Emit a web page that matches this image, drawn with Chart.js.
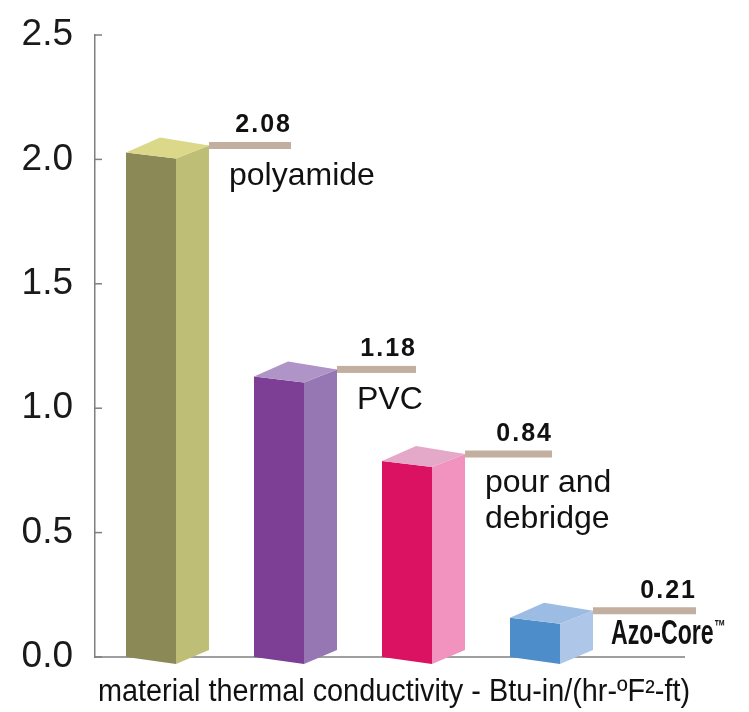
<!DOCTYPE html>
<html><head><meta charset="utf-8">
<script src="https://cdn.jsdelivr.net/npm/chart.js@4/dist/chart.umd.min.js"></script>
<style>html,body{margin:0;padding:0;background:#fff}</style>
</head><body>
<canvas id="c" width="749" height="712"></canvas>
<script>
const categories = ['polyamide', 'PVC', 'pour and debridge', 'Azo-Core'];
const labelLines = [['polyamide'], ['PVC'], ['pour and', 'debridge'], ['Azo-Core']];
const values = [2.08, 1.18, 0.84, 0.21];
const valueLabels = ['2.08', '1.18', '0.84', '0.21'];
const yTicks = [0, 0.5, 1.0, 1.5, 2.0, 2.5];
const axisTitle = 'material thermal conductivity - Btu-in/(hr-ºF²-ft)';

// styling
const frontColors = ['#8b8a56', '#7d3e95', '#db1162', '#4c8dca'];
const sideColors  = ['#bfbe76', '#9677b4', '#f292bf', '#aec7e8'];
const topColors   = ['#dbd88a', '#ae94c7', '#e4a9c9', '#9dbce3'];
const leaderReach = [132, 129, 137, 153];
const nameDrop    = [40, 40, 38, 33];
const leaderColor = '#c3af9f';
const axisColor = '#7f7f7f';

const boxPlugin = {
  id: 'box3d',
  afterDatasetsDraw(chart) {
    const ctx = chart.ctx;
    const ca = chart.chartArea;
    const ys = chart.scales.y;
    const meta = chart.getDatasetMeta(0);
    const y0 = ys.getPixelForValue(0);
    ctx.save();
    ctx.strokeStyle = axisColor; ctx.lineWidth = 1.5;
    ctx.beginPath(); ctx.moveTo(ca.left, y0); ctx.lineTo(685, y0); ctx.stroke();
    yTicks.forEach(v => {
      const y = ys.getPixelForValue(v);
      ctx.beginPath(); ctx.moveTo(ca.left, y); ctx.lineTo(ca.left + 7, y); ctx.stroke();
    });
    meta.data.forEach((el, i) => {
      const cx = el.x, vy = el.y;
      const poly = (pts, col) => {
        ctx.fillStyle = col; ctx.beginPath();
        pts.forEach((p, k) => k ? ctx.lineTo(p[0], p[1]) : ctx.moveTo(p[0], p[1]));
        ctx.closePath(); ctx.fill();
      };
      poly([[cx - 33, vy + 13], [cx + 17, vy + 19], [cx + 17, y0 + 7], [cx - 33, y0]], frontColors[i]);
      poly([[cx + 17, vy + 19], [cx + 50, vy + 6], [cx + 50, y0 - 7], [cx + 17, y0 + 7]], sideColors[i]);
      poly([[cx - 33, vy + 13], [cx + 1, vy - 2], [cx + 50, vy + 6], [cx + 17, vy + 19]], topColors[i]);
      const ly = vy + 6;
      const lx2 = cx + leaderReach[i];
      ctx.fillStyle = leaderColor;
      ctx.fillRect(cx + 50, ly - 3.5, lx2 - (cx + 50), 7);
      ctx.fillStyle = '#111';
      ctx.font = 'bold 25px "Liberation Sans", Arial, sans-serif';
      ctx.letterSpacing = '2px';
      ctx.textAlign = 'right'; ctx.textBaseline = 'alphabetic';
      ctx.fillText(valueLabels[i], lx2 + 1, ly - 13);
      ctx.letterSpacing = '0px';
      ctx.textAlign = 'left';
      const nx = cx + 70;
      if (i === labelLines.length - 1) {
        const t = labelLines[i][0];
        ctx.save();
        ctx.translate(nx - 2, ly + nameDrop[i]);
        ctx.scale(0.66, 1);
        ctx.font = 'bold 35px "Liberation Sans Narrow", "Liberation Sans", sans-serif';
        ctx.fillText(t, 0, 0);
        const w = ctx.measureText(t).width;
        ctx.font = 'bold 17px "Liberation Sans Narrow", "Liberation Sans", sans-serif';
        ctx.fillText('™', w + 1, -12);
        ctx.restore();
      } else {
        ctx.font = '32px "Liberation Sans", Arial, sans-serif';
        labelLines[i].forEach((t, k) => ctx.fillText(t, nx, ly + nameDrop[i] + k * 36));
      }
    });
    ctx.fillStyle = '#111';
    ctx.save();
    ctx.translate(394, 701);
    ctx.scale(0.93, 1);
    ctx.font = '31px "Liberation Sans Narrow", "Liberation Sans", sans-serif';
    ctx.textAlign = 'center'; ctx.textBaseline = 'alphabetic';
    ctx.fillText(axisTitle, 0, 0);
    ctx.restore();
    ctx.restore();
  }
};

new Chart(document.getElementById('c'), {
  type: 'bar',
  data: {
    labels: categories,
    datasets: [{
      data: values,
      backgroundColor: 'rgba(0,0,0,0)',
      borderWidth: 0,
      categoryPercentage: 1,
      barPercentage: 0.65
    }]
  },
  options: {
    responsive: false,
    animation: false,
    events: [],
    layout: { padding: { left: 0, right: 142, top: 35, bottom: 0 } },
    plugins: { legend: { display: false }, tooltip: { enabled: false } },
    scales: {
      x: {
        ticks: { display: false },
        grid: { display: false, drawTicks: false },
        border: { display: false },
        afterFit: s => { s.height = 55; s.paddingLeft = 0; s.paddingRight = 0; }
      },
      y: {
        min: 0, max: 2.5,
        afterBuildTicks: s => { s.ticks = yTicks.map(v => ({ value: v })); },
        ticks: {
          callback: v => Number(v).toFixed(1),
          font: { family: 'Liberation Sans', size: 37 },
          color: '#1a1a1a',
          padding: 22
        },
        grid: { display: false, drawTicks: false },
        border: { display: true, color: axisColor, width: 1.5 },
        afterFit: s => { s.width = 95; s.paddingTop = 0; s.paddingBottom = 0; }
      }
    }
  },
  plugins: [boxPlugin]
});
</script>
</body></html>
